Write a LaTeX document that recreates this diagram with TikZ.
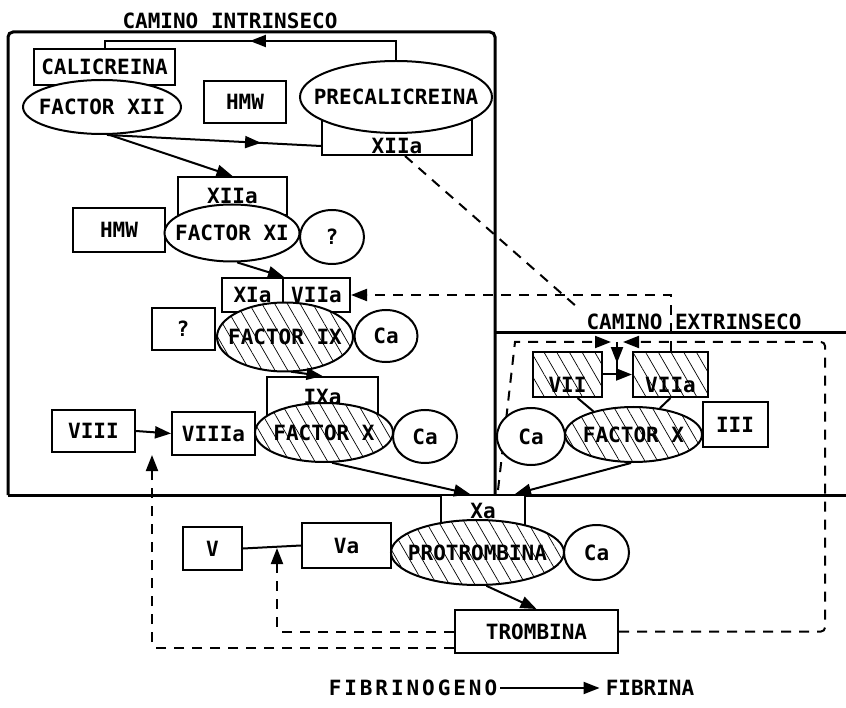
\documentclass[tikz,border=0pt]{standalone}
\usepackage{fontspec}
\newfontfamily\plotfont{DejaVu Sans Mono}
\newfontfamily\plotfontwide[LetterSpace=14]{DejaVu Sans Mono}
\usetikzlibrary{arrows.meta,shapes.geometric,patterns.meta,decorations.markings,calc}
\pgfdeclarelayer{bg}
\pgfsetlayers{bg,main}
\newcommand{\zb}[1]{\makebox[0pt]{#1}}
\begin{document}
\begin{tikzpicture}[x=1pt,y=-1pt,
  >={Triangle[length=16pt,width=12pt]},
  every node/.style={font=\plotfont\bfseries\fontsize{21}{24}\selectfont},
  txt/.style={inner sep=0pt},
  box/.style={draw, line width=2pt, fill=white, inner sep=0pt},
  ell/.style={draw, ellipse, line width=2pt, fill=white, inner sep=0pt},
  hatch/.style={preaction={fill=white}, pattern={Lines[angle=-60,distance=11pt,line width=0.7pt]}},
  frame/.style={line width=3pt},
  ln/.style={line width=2pt},
  arr/.style={line width=2pt, ->},
  dsh/.style={line width=2pt, dash pattern=on 10pt off 8pt},
  midarrow/.style={postaction={decorate,decoration={markings,mark=at position #1 with {\arrow{>}}}}}
]
\useasboundingbox (0,0) rectangle (846,708);

% titles
\node[txt] (tin) at (230,21) {CAMINO INTRINSECO};
\node[txt] (tex) at (694,322) {CAMINO EXTRINSECO};

% group XII
\node[box, minimum width=141, minimum height=36] (calib) at (104.5,67) {CALICREINA};
\node[box, minimum width=82, minimum height=42] (hmw1) at (245,102) {HMW};
\node[box, minimum width=150, minimum height=35] (xiiab) at (397,137.5) {};
\node[ell, minimum width=158, minimum height=54] (fxii) at (102,107) {\zb{FACTOR XII}};
\node[ell, minimum width=192, minimum height=72] (prek) at (396,97) {\zb{PRECALICREINA}};
\node[txt] (xiiat) at (397,146) {XIIa};

% group XI
\node[box, minimum width=109, minimum height=38] (xiib) at (232.5,196) {XIIa};
\node[box, minimum width=92, minimum height=44] (hmw2) at (119,230) {HMW};
\node[ell, minimum width=135, minimum height=57] (fxi) at (232,233) {\zb{FACTOR XI}};
\node[ell, minimum width=64, minimum height=54] (q1) at (332,237) {?};

% group IX
\node[box, minimum width=61, minimum height=34] (xia) at (252.5,295) {XIa};
\node[box, minimum width=67, minimum height=34] (viiai) at (316.5,295) {VIIa};
\node[box, minimum width=63, minimum height=42] (q2) at (183,329) {?};
\node[ell, hatch, minimum width=136, minimum height=69] (fix) at (285,337) {\zb{FACTOR IX}};
\node[ell, minimum width=63, minimum height=52] (ca1) at (386,336) {Ca};

% group X intrinsic
\node[box, minimum width=111, minimum height=40] (ixa) at (322.5,397) {IXa};
\node[box, minimum width=83, minimum height=42] (viii) at (93.5,431) {VIII};
\node[box, minimum width=83, minimum height=43] (viiia) at (213.5,433.5) {VIIIa};
\node[ell, hatch, minimum width=138, minimum height=59] (fx1) at (324,432.5) {\zb{FACTOR X}};
\node[ell, minimum width=64, minimum height=53] (ca2) at (425,436.5) {Ca};

% extrinsic
\node[box, hatch, minimum width=69, minimum height=45] (vii) at (567.5,374.5) {};
\node[txt] (viit) at (567.5,385) {VII};
\node[box, hatch, minimum width=75, minimum height=45] (viiae) at (670.5,374.5) {};
\node[txt] (viiaet) at (670.5,385) {VIIa};
\node[ell, minimum width=68, minimum height=57] (ca3) at (531,436.5) {Ca};
\node[ell, hatch, minimum width=137, minimum height=55] (fxe) at (633.5,434.5) {\zb{FACTOR X}};
\node[box, minimum width=65, minimum height=45] (iii) at (735,424.5) {III};

% common pathway
\node[box, minimum width=84, minimum height=32] (xa) at (483,511) {Xa};
\node[box, minimum width=59, minimum height=43] (v) at (212.5,548.5) {V};
\node[box, minimum width=89, minimum height=45] (va) at (346.5,545.5) {Va};
\node[ell, hatch, minimum width=173, minimum height=65] (pro) at (477.5,552.5) {\zb{PROTROMBINA}};
\node[ell, minimum width=65, minimum height=55] (ca4) at (596.5,552.5) {Ca};
\node[box, minimum width=163, minimum height=43] (trom) at (536.5,631.5) {TROMBINA};
\node[txt, font=\plotfontwide\bfseries\fontsize{21}{24}\selectfont] (fib1) at (413,688) {FIBRINOGENO};
\node[txt] (fib2) at (650,688) {FIBRINA};

% free ends
\coordinate (dl) at (577,307);
\coordinate (jn) at (617,342);
\coordinate (ctl) at (515,342);
\coordinate (cbl) at (498,490);
\coordinate (ctr) at (825,342);
\coordinate (vj) at (277,548);
\coordinate (viiij) at (152,455);
\coordinate (jd) at (617,374.5);

\begin{pgfonlayer}{bg}
\fill[white] (0,0) rectangle (846,708);
\draw[frame, rounded corners=5] (8,495) -- (8,32) -- (495,32) -- (495,495);
\draw[frame] (8,495) -- (846,495);
\draw[frame] (495,333) -- (846,333);
\draw[dsh] ($(xiiab.south)+(8,0)$) -- (dl);
\draw[dsh, ->] (viiae.north) |- (viiai.east);
\draw[dsh, ->, shorten >=6pt] (cbl) -- (ctl) -- (jn);
\draw[dsh, rounded corners=4, ->, shorten >=6pt] (trom.east) -| (ctr) -- (jn);
\draw[dsh, rounded corners=4, ->] (trom.west) -| (vj);
\draw[dsh, rounded corners=4, ->] ($(trom.south west)+(0,-6)$) -| (viiij);
\end{pgfonlayer}

% solid connectors
\draw[ln, midarrow=0.52] (prek.north) |- ($(calib.north)+(0,-7)$) -- (calib.north);
\draw[ln, midarrow=0.72] (fxii.-80) -- ($(xiiab.south west)+(0,-10)$);
\draw[arr] (fxii.-75) -- (xiib.north);
\draw[arr] (fxi.-80) -- (xia.north east);
\draw[arr] (fix.-80) -- (ixa.north);
\draw[arr] (fx1.-75) -- ($(xa.north)+(-13,0)$);
\draw[arr] (fxe.-95) -- ($(xa.north)+(32,0)$);
\draw[arr] (pro.-75) -- (trom.north);
\draw[arr] (viii.east) -- (viiia.west);
\draw[ln] (v.east) -- (va.west);
\draw[arr] (vii.east) -- (viiae.west);
\draw[ln, midarrow=0.65] (jn) -- (jd);
\draw[ln] ($(vii.south)+(10,0)$) -- (fxe.150);
\draw[ln] (viiae.south) -- (fxe.45);
\draw[arr, shorten <=3pt, shorten >=6pt] (fib1.east) -- (fib2.west);
\end{tikzpicture}
\end{document}
